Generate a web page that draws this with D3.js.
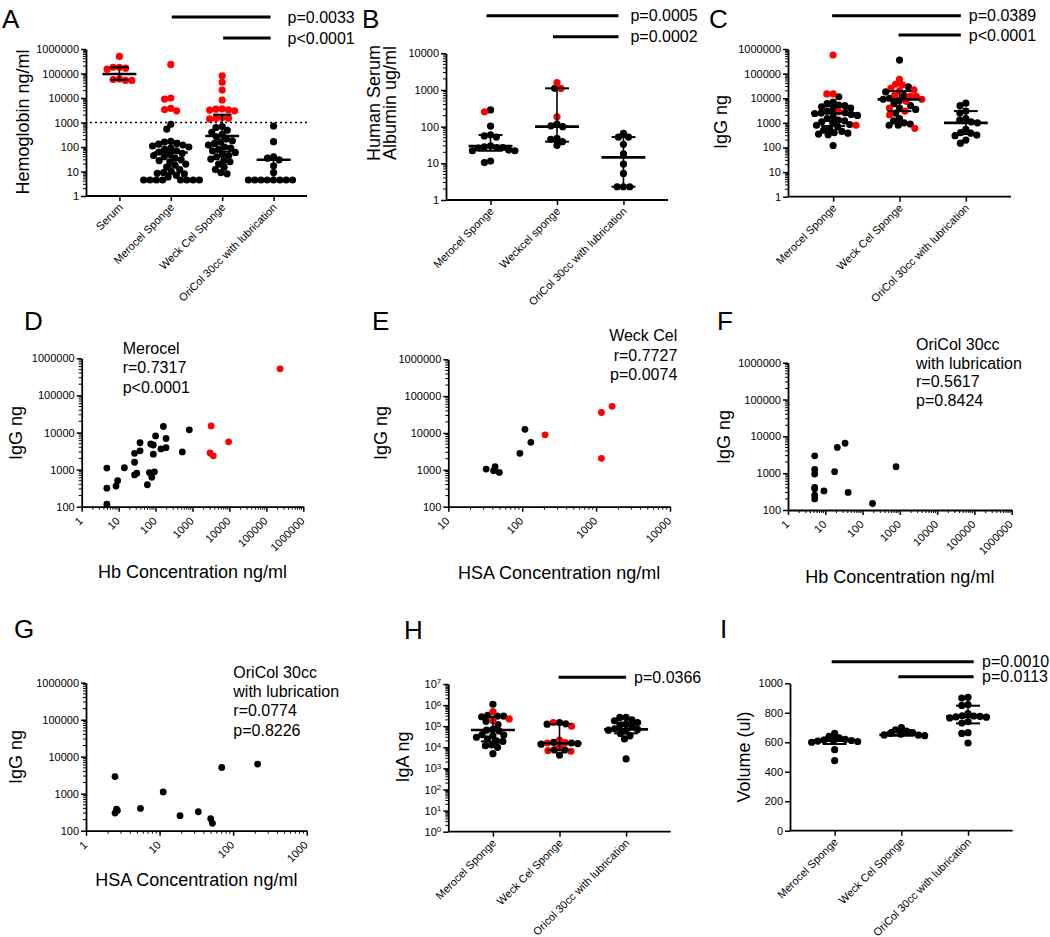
<!DOCTYPE html>
<html><head><meta charset="utf-8">
<script src="https://cdn.jsdelivr.net/npm/d3@7"></script>
<style>body{margin:0;background:#fff}</style>
</head><body><script>
// ================= DATA =================
// Panel A: Hemoglobin ng/ml
const catsA = ["Serum","Merocel Sponge","Weck Cel Sponge","OriCol 30cc with lubrication"];
const hbBlack = [
  [],
  [850,540,170,160,140,130,120,110,100,90,80,70,62,55,50,45,40,35,30,28,25,20,18,15,12,10,9,8.5,8,7,6,4.5,4.5,4.5,4.5,4.5,4.5,4.5,4.5],
  [680,620,480,400,330,260,210,180,160,140,120,100,90,80,70,60,50,45,40,32,28,25,20,15,12,9,8],
  [720,165,40,35,30,17,9,4.5,4.5,4.5,4.5,4.5,4.5,4.5,4.5]
];
const hbRed = [
  [500000,165000,180000,180000,150000,52000,57000,52000,60000],
  [235000,10000,9000,3400,3800,3000],
  [81000,44000,21000,8300,3500,3000,3300,3200,3600,1500,1400,1600,1500],
  []
];
const hbMedian = [95000,60,280,30];
const hbQ1 = [55000,8.5,65,4.5];
const hbQ3 = [180000,170,2100,30];
const pA = [["Merocel Sponge","p=0.0033"],["Weck Cel Sponge","p<0.0001"]];

// Panel B: Human Serum Albumin ug/ml
const catsB = ["Merocel Sponge","Weckcel sponge","OriCol 30cc with lubrication"];
const hsaBlack = [
  [285,104,60,56,52,30,28,27,27,26,23,22,22,11.5,10.5],
  [1110,118,105,100,48,45,39,31],
  [66,52,52,33,18,9.5,5.3,2.3,2.3,2.3]
];
const hsaRed = [[255],[1100,1600,186],[]];
const hsaMedian = [29.5,100,14.5];
const hsaQ1 = [22,39,2.3];
const hsaQ3 = [59,1110,52];
const pB = [["Merocel Sponge","p=0.0005"],["Weckcel sponge","p=0.0002"]];

// Panel C: IgG ng
const catsC = ["Merocel Sponge","Weck Cel Sponge","OriCol 30cc with lubrication"];
const iggBlack = [
  [11500,7000,6000,5200,5000,4500,4000,3500,3000,2600,2500,2400,2200,2000,1800,1500,1300,1200,1100,1000,850,800,700,600,500,450,400,380,350,330,120],
  [355000,29000,18000,13000,10000,9000,8000,6000,5000,4000,3500,2500,1500,1200,1000,900,800,800],
  [6300,5000,3000,2500,1500,1300,1100,1000,550,400,380,320,300,200,150]
];
const iggRed = [
  [570000,15000,15000,2800,800],
  [59000,37000,35000,25000,22000,20000,13500,12000,12000,9000,7500,4000,3000,2100,600],
  []
];
const iggMedian = [2450,9000,1000];
const iggQ1 = [740,3000,350];
const iggQ3 = [4800,19500,3000];
const pC = [["Merocel Sponge","p=0.0389"],["Weck Cel Sponge","p<0.0001"]];

// Panel D: Merocel, Hb vs IgG
const dBlackX = [4.8,4.8,4.8,8.5,9.4,14.3,27,27,27,31,38,38,60,68,74,79,87,87,93,100,140,163,192,192,530,820];
const dBlackY = [1100,316,117,360,500,1120,1580,2750,720,800,3200,5300,390,830,4900,620,4600,2600,870,8100,3600,14500,6900,3900,3000,11800];
const dRedX = [3200,2980,3650,9500,235000];
const dRedY = [15000,2800,2350,5600,520000];
const dNote = ["Merocel","r=0.7317","p<0.0001"];

// Panel E: Weck Cel, HSA vs IgG
const eBlackX = [32.5,43,41,49,93,109,131];
const eBlackY = [1050,1230,950,850,2800,12600,5600];
const eRedX = [204,1180,1180,1650];
const eRedY = [8900,2050,36000,53000];
const eNote = ["Weck Cel","r=0.7727","p=0.0074"];

// Panel F: OriCol, Hb vs IgG
const fBlackX = [5.2,5.2,5.2,5.2,5.2,5.2,5.2,9.2,17.8,21,34,41,185,790];
const fBlackY = [2950,1260,950,410,380,255,200,330,1100,5000,6500,300,150,1500];
const fNote = ["OriCol 30cc","with lubrication","r=0.5617","p=0.8424"];

// Panel G: OriCol, HSA vs IgG
const gBlackX = [2.48,2.48,2.67,2.6,5.5,11.2,19,33.6,49.5,52.3,70,215];
const gBlackY = [2900,300,350,380,400,1120,255,325,212,158,5100,6300];
const gNote = ["OriCol 30cc","with lubrication","r=0.0774","p=0.8226"];

// Panel H: IgA ng
const catsH = ["Merocel Sponge","Weck Cel Sponge","Oricol 30cc with lubrication"];
const igaBlack = [
  [1100000,330000,300000,300000,280000,170000,120000,70000,65000,60000,40000,38000,35000,30000,25000,20000,19000,13000,12000,10000,5000],
  [150000,130000,125000,17000,15000,14000,16000,7500,7500,4300],
  [260000,260000,200000,180000,150000,120000,110000,100000,75000,70000,65000,60000,45000,35000,25000,2800]
];
const igaRed = [[490000,220000,180000],[150000,100000,22000,16500,16000,11000,7000,6500],[]];
const igaMedian = [66000,15500,71000];
const igaQ1 = [19000,7400,46000];
const igaQ3 = [280000,125000,150000];
const pH = [["Weck Cel Sponge","p=0.0366"]];

// Panel I: Volume (ul)
const catsI = ["Merocel Sponge","Weck Cel Sponge","OriCol 30cc with lubrication"];
const volBlack = [
  [660,640,630,620,615,612,610,608,605,600,550,475],
  [700,685,675,665,660,655,650,648,645],
  [905,900,855,850,795,780,778,775,772,770,765,740,730,665,660,595]
];
const volTicks = [0,200,400,600,800,1000];
const volMedian = [611,650,774];
const volQ1 = [588,645,728];
const volQ3 = [631,683,848];
const pI = [["Merocel Sponge","p=0.0010"],["Weck Cel Sponge","p=0.0113"]];

// ================= DRAWING =================
const FONT = "'Liberation Sans', Arial, Helvetica, sans-serif";
const RED = "#ff0000";
const svg = d3.select("body").append("svg").attr("width",1050).attr("height",937)
  .style("font-family",FONT).style("background","#fff");

function decades(lo,hi){const t=[];for(let e=Math.round(Math.log10(lo));e<=Math.round(Math.log10(hi));e++)t.push(Math.pow(10,e));return t;}
function minors(lo,hi){const t=[];for(let e=Math.round(Math.log10(lo));e<Math.round(Math.log10(hi));e++)for(let m=2;m<10;m++)t.push(m*Math.pow(10,e));return t;}
function styleAxis(ax){
  ax.attr("font-family",FONT);
  ax.select(".domain").attr("stroke","#000").attr("stroke-width",1.8);
  ax.selectAll(".tick line").attr("stroke","#000").attr("stroke-width",1.5);
  ax.selectAll(".tick text").attr("font-size",11).attr("fill","#000").attr("font-family",FONT);
}
function yAxisLog(y,x0,opts={}){
  const [lo,hi]=y.domain();
  const ax=svg.append("g").attr("transform",`translate(${x0},0)`)
    .call(d3.axisLeft(y).tickValues(decades(lo,hi)).tickFormat(d=>String(Math.round(d))).tickSize(5).tickSizeOuter(0).tickPadding(2));
  styleAxis(ax);
  if(opts.sup){
    ax.selectAll(".tick text").each(function(d){
      const t=d3.select(this).text("");
      t.append("tspan").text("10");
      t.append("tspan").attr("dy","-0.45em").attr("font-size",8).text(String(Math.round(Math.log10(d))));
    });
  }
  ax.selectAll(".mn").data(minors(lo,hi)).join("line").attr("class","mn")
    .attr("x1",0).attr("x2",-3).attr("y1",d=>y(d)).attr("y2",d=>y(d)).attr("stroke","#000").attr("stroke-width",1);
  return ax;
}
function yAxisLin(y,x0,ticks){
  const ax=svg.append("g").attr("transform",`translate(${x0},0)`)
    .call(d3.axisLeft(y).tickValues(ticks).tickFormat(d3.format("d")).tickSize(5).tickSizeOuter(0).tickPadding(2));
  styleAxis(ax);
}
function swarm(items,yS,r){
  const pts=items.map(d=>({...d,y:yS(d.v)})).sort((a,b)=>a.y-b.y);
  const placed=[];const D=r*1.75;
  for(const p of pts){
    const near=placed.filter(q=>Math.abs(q.y-p.y)<D);
    const c=[0];
    for(const q of near){const dx=Math.sqrt(D*D-(q.y-p.y)**2);c.push(q.x+dx,q.x-dx);}
    c.sort((a,b)=>Math.abs(a)-Math.abs(b)||a-b);
    for(const cx of c){if(near.every(q=>(q.x-cx)**2+(q.y-p.y)**2>=D*D-0.01)){p.x=cx;break;}}
    placed.push(p);
  }
  return placed;
}
function letter(t,x,y){svg.append("text").attr("x",x).attr("y",y).attr("font-size",26).text(t);}
function yTitle(t,x,y){svg.append("text").attr("transform",`translate(${x},${y}) rotate(-90)`).attr("text-anchor","middle").attr("font-size",18).text(t);}

function dotPlot(c){
  const x=d3.scalePoint().domain(c.cats).range([c.left,c.right]).padding(c.pad);
  const y=c.y, step=x.step(), R=3.6;
  const y0=y.range()[0];
  const ax=svg.append("g").attr("transform",`translate(0,${y0})`)
    .call(d3.axisBottom(x).tickSize(5).tickSizeOuter(0).tickFormat(""));
  styleAxis(ax);
  ax.select(".domain").attr("d",`M${c.left},0H${c.right}`);
  svg.append("g").selectAll("text").data(c.cats).join("text")
    .attr("transform",d=>`translate(${x(d)+4},${y0+12}) rotate(-45)`)
    .attr("text-anchor","end").attr("font-size",11).text(d=>d);
  if(c.log) yAxisLog(y,c.left,{sup:c.sup}); else yAxisLin(y,c.left,c.ticks);
  if(c.refLine!==undefined){
    svg.append("line").attr("x1",c.left+4).attr("x2",c.right).attr("y1",y(c.refLine)).attr("y2",y(c.refLine))
      .attr("stroke","#000").attr("stroke-width",1.5).attr("stroke-dasharray","2,3");
  }
  c.cats.forEach((cat,i)=>{
    const items=c.black[i].map(v=>({v,col:"#000"})).concat((c.red[i]||[]).map(v=>({v,col:RED})));
    const pts=swarm(items,y,R).sort((a,b)=>(a.col===RED)-(b.col===RED));
    const cx=x(cat);
    svg.append("g").selectAll("circle").data(pts).join("circle")
      .attr("cx",d=>cx+d.x).attr("cy",d=>d.y).attr("r",R).attr("fill",d=>d.col);
    const cap=step*0.36, med=step*0.66;
    const gb=svg.append("g").attr("stroke","#000");
    gb.append("line").attr("x1",cx).attr("x2",cx).attr("y1",y(c.q1[i])).attr("y2",y(c.q3[i])).attr("stroke-width",1.6);
    [c.q1[i],c.q3[i]].forEach(v=>gb.append("line").attr("x1",cx-cap/2).attr("x2",cx+cap/2).attr("y1",y(v)).attr("y2",y(v)).attr("stroke-width",2));
    gb.append("line").attr("x1",cx-med/2).attr("x2",cx+med/2).attr("y1",y(c.median[i])).attr("y2",y(c.median[i])).attr("stroke-width",2.6);
  });
  const last=c.cats[c.cats.length-1];
  c.comps.forEach((cp,k)=>{
    const yy=c.pY[k];
    svg.append("line").attr("x1",x(cp[0])+c.startAdj).attr("x2",x(last)+c.endAdj).attr("y1",yy).attr("y2",yy)
      .attr("stroke","#000").attr("stroke-width",3);
    svg.append("text").attr("x",x(last)+c.textGap).attr("y",yy).attr("dy","0.36em").attr("font-size",16).text(cp[1]);
  });
}

function scatter(c){
  const x=d3.scaleLog().domain(c.xDom).range([c.left,c.right]);
  const y=d3.scaleLog().domain([100,1e6]).range([c.bottom,c.top]);
  const ax=svg.append("g").attr("transform",`translate(0,${c.bottom})`)
    .call(d3.axisBottom(x).tickValues(decades(...c.xDom)).tickFormat("").tickSize(5).tickSizeOuter(0));
  styleAxis(ax);
  ax.selectAll(".mn").data(minors(...c.xDom)).join("line").attr("class","mn")
    .attr("x1",d=>x(d)).attr("x2",d=>x(d)).attr("y1",0).attr("y2",3).attr("stroke","#000").attr("stroke-width",1);
  svg.append("g").selectAll("text").data(decades(...c.xDom)).join("text")
    .attr("transform",d=>`translate(${x(d)+2},${c.bottom+15}) rotate(-45)`)
    .attr("text-anchor","end").attr("font-size",11).text(d=>String(Math.round(d)));
  yAxisLog(y,c.left);
  svg.append("g").selectAll("circle").data(c.bx.map((v,i)=>[v,c.by[i]])).join("circle")
    .attr("cx",d=>x(d[0])).attr("cy",d=>y(d[1])).attr("r",3.4).attr("fill","#000");
  svg.append("g").selectAll("circle").data((c.rx||[]).map((v,i)=>[v,c.ry[i]])).join("circle")
    .attr("cx",d=>x(d[0])).attr("cy",d=>y(d[1])).attr("r",3.4).attr("fill",RED);
  svg.append("text").attr("x",(c.left+c.right)/2).attr("y",c.xtY).attr("text-anchor","middle").attr("font-size",18).text(c.xTitle);
  c.note.forEach((t,i)=>svg.append("text").attr("x",c.noteX).attr("y",c.noteY+i*c.noteDy)
    .attr("text-anchor",c.noteAnchor||"start").attr("font-size",16).text(t));
}

// ---- Panel A
dotPlot({cats:catsA,black:hbBlack,red:hbRed,median:hbMedian,q1:hbQ1,q3:hbQ3,
  left:86,right:307,pad:0.65,log:true,y:d3.scaleLog().domain([1,1e6]).range([196,49]),
  refLine:1000,comps:pA,pY:[17,38],startAdj:1,endAdj:-3,textGap:14});
letter("A",2,28); yTitle("Hemoglobin ng/ml",29,122);

// ---- Panel B
dotPlot({cats:catsB,black:hsaBlack,red:hsaRed,median:hsaMedian,q1:hsaQ1,q3:hsaQ3,
  left:446,right:668,pad:0.67,log:true,y:d3.scaleLog().domain([1,1e4]).range([200,53.3]),
  comps:pB,pY:[15.7,36.7],startAdj:-4,endAdj:-5,textGap:7});
letter("B",362,28); yTitle("Human Serum",380,103); yTitle("Albumin ug/ml",396,103);

// ---- Panel C
dotPlot({cats:catsC,black:iggBlack,red:iggRed,median:iggMedian,q1:iggQ1,q3:iggQ3,
  left:788,right:1011,pad:0.68,log:true,y:d3.scaleLog().domain([1,1e6]).range([196.7,49]),
  comps:pC,pY:[15.7,35],startAdj:-1,endAdj:-5,textGap:3});
letter("C",709,28); yTitle("IgG ng",727,122);

// ---- Panel D
scatter({xDom:[1,1e6],left:81.7,right:303.3,bottom:506.7,top:358.3,bx:dBlackX,by:dBlackY,rx:dRedX,ry:dRedY,
  xTitle:"Hb Concentration ng/ml",xtY:578,note:dNote,noteX:122.7,noteY:354,noteDy:19.4});
letter("D",24,330); yTitle("IgG ng",22,433);

// ---- Panel E
scatter({xDom:[10,1e4],left:448.3,right:670,bottom:506.7,top:359.3,bx:eBlackX,by:eBlackY,rx:eRedX,ry:eRedY,
  xTitle:"HSA Concentration ng/ml",xtY:579,note:eNote,noteX:677.3,noteY:341,noteDy:19.6,noteAnchor:"end"});
letter("E",372,330); yTitle("IgG ng",387,433);

// ---- Panel F
scatter({xDom:[1,1e6],left:788,right:1011.7,bottom:510,top:362.7,bx:fBlackX,by:fBlackY,
  xTitle:"Hb Concentration ng/ml",xtY:583,note:fNote,noteX:916,noteY:350,noteDy:18.6});
letter("F",717,330); yTitle("IgG ng",730,437);

// ---- Panel G
scatter({xDom:[1,1e3],left:86,right:306.7,bottom:830.7,top:682.7,bx:gBlackX,by:gBlackY,
  xTitle:"HSA Concentration ng/ml",xtY:886,note:gNote,noteX:233.3,noteY:678,noteDy:19.2});
letter("G",14,638); yTitle("IgG ng",22,757);

// ---- Panel H
dotPlot({cats:catsH,black:igaBlack,red:igaRed,median:igaMedian,q1:igaQ1,q3:igaQ3,
  left:448.3,right:670.7,pad:0.67,log:true,sup:true,y:d3.scaleLog().domain([1,1e7]).range([831.7,684]),
  comps:pH,pY:[677.3],startAdj:-1,endAdj:0,textGap:8});
letter("H",404,639); yTitle("IgA ng",409,757);

// ---- Panel I
dotPlot({cats:catsI,black:volBlack,red:[[],[],[]],median:volMedian,q1:volQ1,q3:volQ3,
  left:790,right:1012.7,pad:0.67,log:false,ticks:volTicks,y:d3.scaleLinear().domain([0,1000]).range([830.7,683.3]),
  comps:pI,pY:[661.7,676.7],startAdj:-3,endAdj:5.6,textGap:14});
letter("I",720,638); yTitle("Volume (ul)",750,757);
</script></body></html>
